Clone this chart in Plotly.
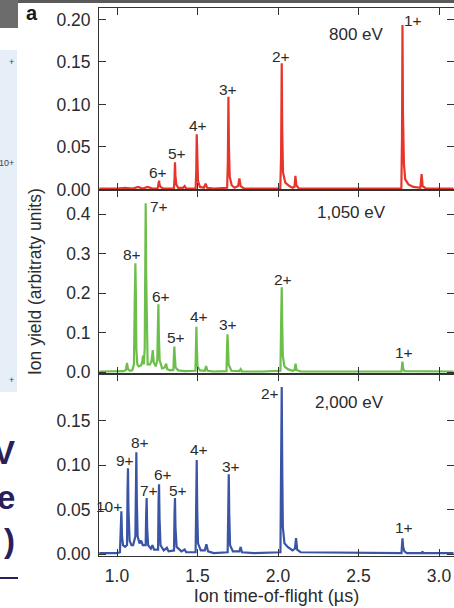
import plotly.graph_objects as go

# ---------------- data ----------------
tof_800 = [0.89, 1.00, 1.05, 1.10, 1.13, 1.16, 1.19, 1.22, 1.252, 1.258, 1.261, 1.264, 1.27, 1.29,
           1.353, 1.357, 1.360, 1.363, 1.368, 1.38, 1.41, 1.42, 1.43, 1.488, 1.492, 1.495, 1.498,
           1.503, 1.515, 1.54, 1.55, 1.56, 1.60, 1.684, 1.688, 1.692, 1.695, 1.700, 1.712, 1.73,
           1.752, 1.760, 1.768, 1.79, 1.90, 2.014, 2.019, 2.023, 2.026, 2.031, 2.045, 2.07, 2.09,
           2.102, 2.108, 2.114, 2.13, 2.40, 2.766, 2.770, 2.773, 2.776, 2.779, 2.782, 2.79, 2.81,
           2.84, 2.884, 2.892, 2.898, 2.92, 3.09]
yield_800 = [0.001, 0.001, 0.002, 0.001, 0.003, 0.001, 0.003, 0.001, 0.001, 0.006, 0.0104, 0.006, 0.003, 0.001,
             0.001, 0.012, 0.032, 0.016, 0.006, 0.002, 0.002, 0.004, 0.001, 0.001, 0.020, 0.065, 0.030,
             0.010, 0.003, 0.002, 0.007, 0.002, 0.001, 0.002, 0.030, 0.109, 0.050, 0.015, 0.005, 0.002,
             0.004, 0.013, 0.004, 0.001, 0.001, 0.001, 0.040, 0.1485, 0.070, 0.020, 0.008, 0.004, 0.002,
             0.003, 0.016, 0.005, 0.001, 0.001, 0.001, 0.060, 0.1935, 0.090, 0.062, 0.030, 0.012, 0.006,
             0.003, 0.002, 0.018, 0.004, 0.001, 0.001]

tof_1050 = [0.89, 1.00, 1.04, 1.055, 1.062, 1.068, 1.08, 1.095, 1.105, 1.110, 1.114, 1.117, 1.120, 1.126,
            1.135, 1.15, 1.158, 1.161, 1.166, 1.172, 1.176, 1.178, 1.181, 1.185, 1.19, 1.205, 1.215,
            1.222, 1.228, 1.24, 1.250, 1.254, 1.257, 1.260, 1.265, 1.28, 1.295, 1.305, 1.312, 1.33,
            1.350, 1.353, 1.356, 1.359, 1.364, 1.38, 1.42, 1.487, 1.490, 1.493, 1.496, 1.50, 1.515,
            1.545, 1.553, 1.562, 1.60, 1.680, 1.683, 1.686, 1.689, 1.693, 1.71, 1.76, 1.768, 1.776,
            1.90, 2.015, 2.019, 2.023, 2.026, 2.03, 2.04, 2.06, 2.09, 2.103, 2.109, 2.115, 2.14, 2.5,
            2.767, 2.771, 2.773, 2.777, 2.785, 3.09]
yield_1050 = [0.002, 0.002, 0.003, 0.006, 0.024, 0.008, 0.004, 0.005, 0.020, 0.180, 0.276, 0.200, 0.060, 0.020,
              0.015, 0.018, 0.030, 0.042, 0.020, 0.060, 0.300, 0.428, 0.250, 0.060, 0.020, 0.020, 0.030,
              0.056, 0.025, 0.015, 0.030, 0.120, 0.172, 0.090, 0.030, 0.010, 0.012, 0.022, 0.008, 0.005,
              0.006, 0.040, 0.065, 0.040, 0.012, 0.005, 0.003, 0.004, 0.060, 0.115, 0.060, 0.015, 0.005,
              0.004, 0.016, 0.004, 0.002, 0.003, 0.060, 0.096, 0.070, 0.020, 0.004, 0.003, 0.008, 0.002,
              0.002, 0.004, 0.120, 0.215, 0.120, 0.040, 0.015, 0.008, 0.004, 0.006, 0.022, 0.006, 0.002, 0.002,
              0.002, 0.022, 0.027, 0.010, 0.003, 0.002]

tof_2000 = [0.89, 1.00, 1.018, 1.023, 1.027, 1.031, 1.037, 1.05, 1.062, 1.065, 1.068, 1.071, 1.078, 1.09,
            1.10, 1.114, 1.117, 1.120, 1.123, 1.128, 1.14, 1.15, 1.16, 1.178, 1.181, 1.184, 1.187, 1.193,
            1.21, 1.22, 1.23, 1.255, 1.258, 1.261, 1.264, 1.27, 1.29, 1.31, 1.32, 1.354, 1.357, 1.360,
            1.363, 1.37, 1.40, 1.42, 1.43, 1.488, 1.492, 1.495, 1.498, 1.503, 1.52, 1.545, 1.555, 1.565,
            1.60, 1.687, 1.691, 1.694, 1.697, 1.702, 1.72, 1.76, 1.768, 1.776, 1.85, 2.015, 2.019, 2.023,
            2.026, 2.03, 2.04, 2.06, 2.09, 2.105, 2.112, 2.119, 2.14, 2.5, 2.767, 2.771, 2.773, 2.777,
            2.785, 2.80, 2.893, 2.897, 2.902, 3.09]
yield_2000 = [0.001, 0.001, 0.002, 0.025, 0.048, 0.020, 0.010, 0.008, 0.010, 0.070, 0.0965, 0.050, 0.015, 0.010,
              0.010, 0.020, 0.090, 0.1145, 0.060, 0.020, 0.012, 0.015, 0.010, 0.010, 0.045, 0.063, 0.030, 0.010,
              0.006, 0.010, 0.005, 0.005, 0.060, 0.0785, 0.040, 0.010, 0.004, 0.007, 0.003, 0.004, 0.045, 0.063,
              0.030, 0.008, 0.003, 0.005, 0.002, 0.002, 0.060, 0.106, 0.050, 0.012, 0.004, 0.004, 0.011, 0.003,
              0.001, 0.002, 0.050, 0.0897, 0.045, 0.010, 0.003, 0.003, 0.008, 0.002, 0.001, 0.002, 0.100, 0.188,
              0.100, 0.030, 0.012, 0.008, 0.004, 0.006, 0.018, 0.005, 0.002, 0.001, 0.001, 0.013, 0.0177, 0.008,
              0.003, 0.001, 0.001, 0.003, 0.001, 0.001]

# peak labels: (text, x, y)
labels_800 = [("1+", 2.839, 0.1986), ("2+", 2.021, 0.157), ("3+", 1.690, 0.118),
              ("4+", 1.503, 0.0747), ("5+", 1.373, 0.0418), ("6+", 1.257, 0.0198)]
labels_1050 = [("7+", 1.261, 0.421), ("8+", 1.096, 0.297), ("6+", 1.276, 0.193),
               ("5+", 1.369, 0.0876), ("4+", 1.506, 0.141), ("3+", 1.690, 0.122),
               ("2+", 2.031, 0.236), ("1+", 2.783, 0.0506)]
labels_2000 = [("2+", 1.948, 0.181), ("8+", 1.141, 0.126), ("9+", 1.048, 0.105),
               ("10+", 0.950, 0.054), ("7+", 1.199, 0.071), ("6+", 1.286, 0.090),
               ("5+", 1.379, 0.071), ("4+", 1.508, 0.118), ("3+", 1.710, 0.098),
               ("1+", 2.783, 0.030)]
energy_labels = [("800 eV", 2.487, 0.1818), ("1,050 eV", 2.456, 0.404), ("2,000 eV", 2.445, 0.171)]

x_ticks = [1.0, 1.5, 2.0, 2.5, 3.0]
x_ticktext = ["1.0", "1.5", "2.0", "2.5", "3.0"]
y_ticks_800 = [0.00, 0.05, 0.10, 0.15, 0.20]
y_ticks_1050 = [0.0, 0.1, 0.2, 0.3, 0.4]
y_ticks_2000 = [0.00, 0.05, 0.10, 0.15]

# ---------------- styling ----------------
RED = "#e8352b"
GREEN = "#6cbf4b"
BLUE = "#3a55a6"
FONT = "Liberation Sans, Arial, sans-serif"
TXT = "#2b2b2b"
AX = "#333333"

W, H = 454, 608
ML, MR, MT, MB = 99, 0, 8, 52
XR = [0.888, 3.093]

fig = go.Figure()
fig.add_trace(go.Scatter(x=tof_800, y=yield_800, mode="lines", line=dict(color=RED, width=2.2),
                         xaxis="x", yaxis="y", showlegend=False))
fig.add_trace(go.Scatter(x=tof_1050, y=yield_1050, mode="lines", line=dict(color=GREEN, width=2.2),
                         xaxis="x2", yaxis="y2", showlegend=False))
fig.add_trace(go.Scatter(x=tof_2000, y=yield_2000, mode="lines", line=dict(color=BLUE, width=2.2),
                         xaxis="x3", yaxis="y3", showlegend=False))

common_x = dict(range=XR, showline=True, mirror="ticks", linecolor=AX, linewidth=1,
                ticks="inside", ticklen=7, tickcolor=AX, tickvals=x_ticks, ticktext=x_ticktext,
                showgrid=False, zeroline=False)
common_y = dict(showline=True, mirror="ticks", linecolor=AX, linewidth=1, ticks="inside",
                ticklen=7, tickcolor=AX, showgrid=False, zeroline=False,
                tickfont=dict(family=FONT, size=17.5, color=TXT), ticklabelstandoff=4)

d1 = (556 - 373.5) / 548
d2 = (556 - 190) / 548

fig.update_layout(
    width=W, height=H, margin=dict(l=ML, r=MR, t=MT, b=MB),
    paper_bgcolor="white", plot_bgcolor="white",
    xaxis=dict(common_x, anchor="y", showticklabels=False),
    xaxis2=dict(common_x, anchor="y2", showticklabels=False),
    xaxis3=dict(common_x, anchor="y3", showticklabels=True,
                tickfont=dict(family=FONT, size=17.5, color=TXT), ticklabelstandoff=4,
                title=dict(text="Ion time-of-flight (µs)", font=dict(family=FONT, size=18, color=TXT),
                           standoff=4)),
    yaxis=dict(common_y, domain=[d2, 1], range=[-0.0006, 0.2135], tickvals=y_ticks_800,
               tickformat=".2f"),
    yaxis2=dict(common_y, domain=[d1, d2], range=[-0.003, 0.4615], tickvals=y_ticks_1050,
                tickformat=".1f"),
    yaxis3=dict(common_y, domain=[0, d1], range=[-0.00225, 0.2033], tickvals=y_ticks_2000,
                tickformat=".2f"),
)

LBL = dict(family=FONT, size=15.5, color=TXT)
ann = []
for txt, x, y in labels_800:
    ann.append(dict(text=txt, x=x, y=y, xref="x", yref="y", showarrow=False, font=LBL))
for txt, x, y in labels_1050:
    ann.append(dict(text=txt, x=x, y=y, xref="x2", yref="y2", showarrow=False, font=LBL))
for txt, x, y in labels_2000:
    ann.append(dict(text=txt, x=x, y=y, xref="x3", yref="y3", showarrow=False, font=LBL))
for (txt, x, y), axn in zip(energy_labels, ["", "2", "3"]):
    ann.append(dict(text=txt, x=x, y=y, xref="x" + axn, yref="y" + axn, showarrow=False,
                    font=dict(family=FONT, size=17, color=TXT)))


def px(xp):
    return (xp - ML) / (W - ML - MR)


def py(yp):
    return (H - MB - yp) / (H - MT - MB)


# y-axis title
ann.append(dict(text="Ion yield (arbitraty units)", x=px(35), y=py(282), xref="paper", yref="paper",
                xanchor="center", yanchor="middle", showarrow=False, textangle=-90,
                font=dict(family=FONT, size=17.5, color=TXT)))
# panel letter
ann.append(dict(text="<b>a</b>", x=px(32), y=py(13), xref="paper", yref="paper",
                xanchor="center", yanchor="middle", showarrow=False,
                font=dict(family=FONT, size=20, color="#1a1a1a")))

# fragments of the neighbouring slide at the left edge
shapes = [
    dict(type="rect", xref="paper", yref="paper", x0=px(-2), x1=px(456), y0=py(0), y1=py(3),
         fillcolor="#5a5a5a", line=dict(width=0), layer="above"),
    dict(type="rect", xref="paper", yref="paper", x0=px(-2), x1=px(18), y0=py(0), y1=py(28),
         fillcolor="#6c6c6c", line=dict(width=0)),
    dict(type="rect", xref="paper", yref="paper", x0=px(-2), x1=px(17), y0=py(50), y1=py(392),
         fillcolor="#e6eef7", line=dict(width=0)),
    dict(type="line", xref="paper", yref="paper", x0=px(-2), x1=px(18), y0=py(578), y1=py(578),
         line=dict(color="#2a1f5a", width=2)),
]
for t, yy in [("+", 62), ("10+", 163), ("+", 380)]:
    ann.append(dict(text=t, x=px(16), y=py(yy), xref="paper", yref="paper", xanchor="right",
                    yanchor="middle", showarrow=False, font=dict(family=FONT, size=9, color="#444")))
for t, yy in [("V", 452), ("e", 497), (")", 540)]:
    ann.append(dict(text="<b>" + t + "</b>", x=px(17), y=py(yy), xref="paper", yref="paper",
                    xanchor="right", yanchor="middle", showarrow=False,
                    font=dict(family=FONT, size=33, color="#2a1f5a")))

fig.update_layout(annotations=ann, shapes=shapes)
fig.write_html("out.html")
